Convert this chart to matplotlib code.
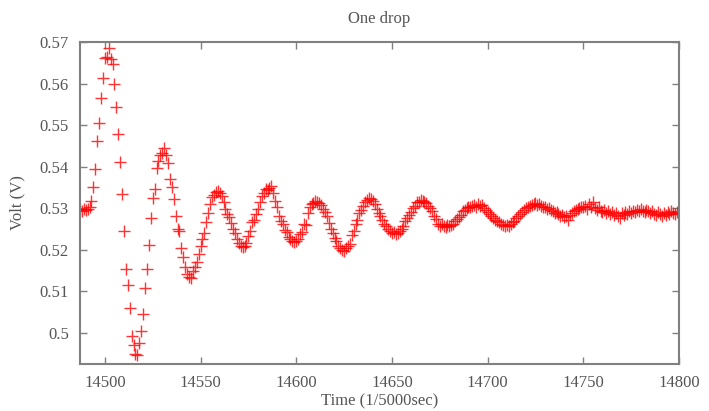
import numpy as np
import matplotlib
matplotlib.use("Agg")
import matplotlib.pyplot as plt

# one sample per 1/5000 s, starting at 14487
start_time = 14487
volts = [
    0.5296, 0.5294, 0.5297, 0.5295, 0.5299, 0.5302, 0.5318, 0.5352, 0.5395, 0.5461,
    0.5506, 0.5565, 0.5613, 0.5662, 0.5664, 0.5686, 0.5658, 0.5646, 0.5598, 0.5543,
    0.5478, 0.5412, 0.5334, 0.5245, 0.5153, 0.5114, 0.5060, 0.4993, 0.4970, 0.4948,
    0.4946, 0.4975, 0.5004, 0.5046, 0.5107, 0.5153, 0.5212, 0.5276, 0.5325, 0.5345,
    0.5396, 0.5414, 0.5428, 0.5432, 0.5445, 0.5427, 0.5408, 0.5369, 0.5350, 0.5322,
    0.5282, 0.5249, 0.5246, 0.5204, 0.5182, 0.5158, 0.5142, 0.5134, 0.5131, 0.5148,
    0.5158, 0.5170, 0.5190, 0.5210, 0.5225, 0.5241, 0.5266, 0.5288, 0.5311, 0.5327,
    0.5331, 0.5338, 0.5342, 0.5336, 0.5330, 0.5316, 0.5297, 0.5287, 0.5279, 0.5264,
    0.5250, 0.5240, 0.5226, 0.5216, 0.5210, 0.5206, 0.5208, 0.5215, 0.5232, 0.5246,
    0.5266, 0.5272, 0.5285, 0.5298, 0.5316, 0.5330, 0.5336, 0.5346, 0.5344, 0.5348,
    0.5353, 0.5337, 0.5318, 0.5303, 0.5281, 0.5270, 0.5262, 0.5248, 0.5242, 0.5231,
    0.5226, 0.5222, 0.5218, 0.5221, 0.5226, 0.5238, 0.5242, 0.5262, 0.5260, 0.5288,
    0.5302, 0.5310, 0.5312, 0.5318, 0.5316, 0.5312, 0.5308, 0.5298, 0.5290, 0.5280,
    0.5265, 0.5250, 0.5240, 0.5228, 0.5220, 0.5209, 0.5204, 0.5200, 0.5197, 0.5204,
    0.5208, 0.5213, 0.5235, 0.5244, 0.5262, 0.5272, 0.5288, 0.5296, 0.5305, 0.5316,
    0.5320, 0.5324, 0.5322, 0.5318, 0.5310, 0.5298, 0.5288, 0.5280, 0.5272, 0.5262,
    0.5258, 0.5250, 0.5246, 0.5240, 0.5242, 0.5238, 0.5240, 0.5244, 0.5250, 0.5256,
    0.5268, 0.5276, 0.5284, 0.5290, 0.5300, 0.5306, 0.5314, 0.5316, 0.5320, 0.5318,
    0.5316, 0.5312, 0.5306, 0.5300, 0.5294, 0.5282, 0.5274, 0.5262, 0.5258, 0.5262,
    0.5256, 0.5254, 0.5259, 0.5256, 0.5260, 0.5262, 0.5268, 0.5274, 0.5278, 0.5284,
    0.5292, 0.5296, 0.5300, 0.5304, 0.5302, 0.5306, 0.5308, 0.5304, 0.5310, 0.5306,
    0.5308, 0.5300, 0.5296, 0.5290, 0.5286, 0.5280, 0.5276, 0.5272, 0.5270, 0.5266,
    0.5262, 0.5260, 0.5258, 0.5260, 0.5256, 0.5262, 0.5266, 0.5270, 0.5276, 0.5280,
    0.5286, 0.5290, 0.5296, 0.5300, 0.5302, 0.5306, 0.5308, 0.5310, 0.5312, 0.5308,
    0.5310, 0.5306, 0.5302, 0.5304, 0.5298, 0.5300, 0.5296, 0.5292, 0.5288, 0.5290,
    0.5286, 0.5282, 0.5284, 0.5278, 0.5282, 0.5272, 0.5284, 0.5288, 0.5292, 0.5296,
    0.5298, 0.5300, 0.5304, 0.5302, 0.5306, 0.5298, 0.5310, 0.5304, 0.5316, 0.5300,
    0.5296, 0.5302, 0.5294, 0.5290, 0.5296, 0.5288, 0.5292, 0.5286, 0.5290, 0.5284,
    0.5288, 0.5282, 0.5276, 0.5288, 0.5284, 0.5290, 0.5286, 0.5292, 0.5288, 0.5294,
    0.5290, 0.5296, 0.5292, 0.5298, 0.5294, 0.5290, 0.5296, 0.5292, 0.5288, 0.5292,
    0.5286, 0.5284, 0.5290, 0.5286, 0.5282, 0.5288, 0.5284, 0.5290, 0.5286, 0.5292,
    0.5288, 0.5286, 0.5290, 0.5288,
]
x_ticks = [14500, 14550, 14600, 14650, 14700, 14750, 14800]
y_ticks = [0.5, 0.51, 0.52, 0.53, 0.54, 0.55, 0.56, 0.57]
y_tick_labels = ["0.5", "0.51", "0.52", "0.53", "0.54", "0.55", "0.56", "0.57"]

time_s = start_time + np.arange(len(volts))

plt.rcParams["font.family"] = ["Liberation Serif", "DejaVu Serif"]
text_color = "#555555"
frame_color = "#808080"

figure = plt.figure(figsize=(7.09, 4.11), dpi=100)
axes = figure.add_axes([0.1128, 0.1144, 0.8449, 0.7835])

axes.plot(time_s, volts, linestyle="none", marker="+", color="red",
          markersize=8, markeredgewidth=1.0, alpha=0.8)

axes.set_xlim(14487, 14800)
axes.set_ylim(0.4925, 0.57)
axes.set_xticks(x_ticks)
axes.set_yticks(y_ticks)
axes.set_yticklabels(y_tick_labels)
axes.tick_params(direction="in", length=5, width=1, color=frame_color,
                 labelcolor=text_color, labelsize=12, top=True, right=True,
                 pad=8)
for spine in axes.spines.values():
    spine.set_color(frame_color)
    spine.set_linewidth(1.5)

axes.set_title("One drop", fontsize=12, color=text_color, pad=14)
axes.set_xlabel("Time (1/5000sec)", fontsize=12, color=text_color, labelpad=2)
axes.set_ylabel("Volt (V)", fontsize=12, color=text_color, labelpad=10)

figure.savefig("out.png", dpi=100)
plt.close(figure)
